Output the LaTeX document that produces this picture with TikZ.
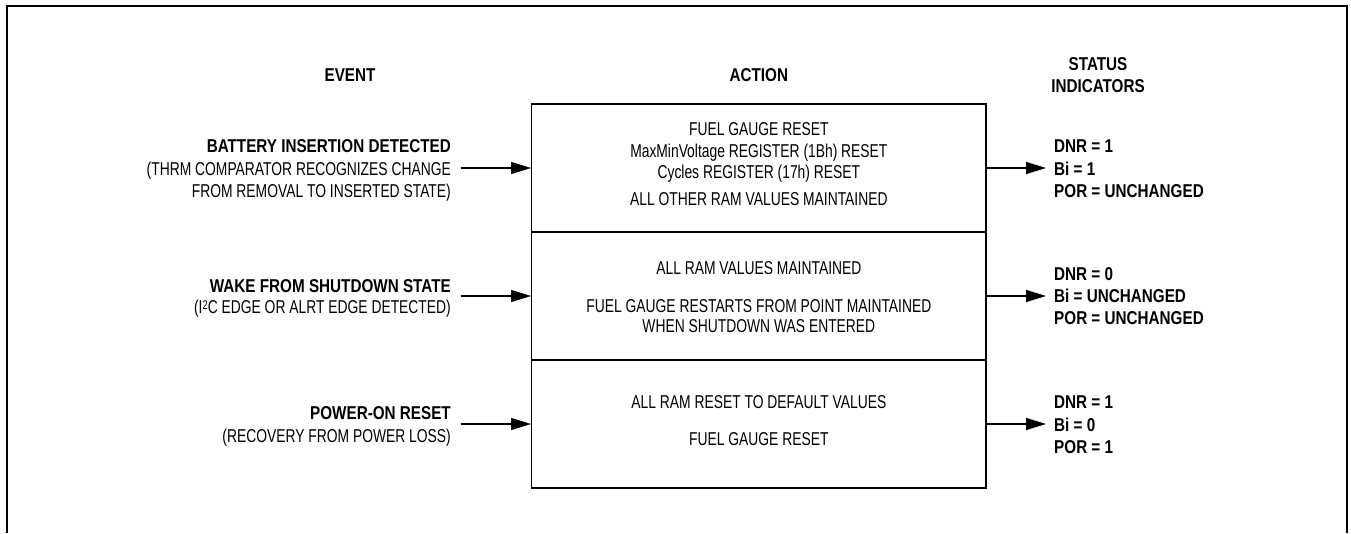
\documentclass[tikz,border=0pt]{standalone}
\usepackage{fontspec}
\newfontfamily\rgfont{Liberation Sans}[FakeStretch=0.745]
\newfontfamily\bdfont{Liberation Sans}[FakeStretch=0.82]
\usetikzlibrary{arrows.meta}
\begin{document}
\begin{tikzpicture}[x=1pt,y=-1pt,
  rg/.style={font=\rgfont\fontsize{18.6}{22}\selectfont, inner sep=0pt},
  bd/.style={font=\bdfont\bfseries\fontsize{18.6}{22}\selectfont, inner sep=0pt},
  rowbox/.style={draw, line width=1.4pt, minimum width=454.3pt, minimum height=128pt, inner sep=0pt},
  arr/.style={line width=1.4pt, -{Triangle[length=20pt,width=12pt]}},
  framestyle/.style={line width=2pt}]
\useasboundingbox (0,0) rectangle (1351,533);
% outer frame (open at bottom)
\draw[framestyle] (7,533) -- (7,6) -- (1347,6) -- (1347,533);

% headers
\node[bd, anchor=base] (hev) at (350,81) {EVENT};
\node[bd, anchor=base] (hac) at (758.85,81) {ACTION};
\node[bd, anchor=base] (hst1) at (1098,70) {STATUS};
\node[bd, anchor=base] (hst2) at (1098,92.5) {INDICATORS};

% action boxes
\node[rowbox] (r1) at (758.85,168) {};
\node[rowbox] (r2) at (758.85,296) {};
\node[rowbox] (r3) at (758.85,424) {};

% action texts
\node[rg, anchor=base] (t11) at (758.85,135.7) {FUEL GAUGE RESET};
\node[rg, anchor=base] (t12) at (758.85,157.3) {MaxMinVoltage REGISTER (1Bh) RESET};
\node[rg, anchor=base] (t13) at (758.85,178.5) {Cycles REGISTER (17h) RESET};
\node[rg, anchor=base] (t14) at (758.85,205) {ALL OTHER RAM VALUES MAINTAINED};

\node[rg, anchor=base] (t21) at (758.85,274.7) {ALL RAM VALUES MAINTAINED};
\node[rg, anchor=base] (t22) at (758.85,312.8) {FUEL GAUGE RESTARTS FROM POINT MAINTAINED};
\node[rg, anchor=base] (t23) at (758.85,332) {WHEN SHUTDOWN WAS ENTERED};

\node[rg, anchor=base] (t31) at (758.85,408.7) {ALL RAM RESET TO DEFAULT VALUES};
\node[rg, anchor=base] (t32) at (758.85,445.7) {FUEL GAUGE RESET};

% event texts
\node[bd, anchor=base east] (e11) at (451,152.7) {BATTERY INSERTION DETECTED};
\node[rg, anchor=base east] (e12) at (451,175.7) {(THRM COMPARATOR RECOGNIZES CHANGE};
\node[rg, anchor=base east] (e13) at (451,197.7) {FROM REMOVAL TO INSERTED STATE)};

\node[bd, anchor=base east] (e21) at (451,292) {WAKE FROM SHUTDOWN STATE};
\node[rg, anchor=base east] (e22) at (451,313.7) {(I\raisebox{4.5pt}{\fontsize{12.5}{12}\selectfont 2}C EDGE OR ALRT EDGE DETECTED)};

\node[bd, anchor=base east] (e31) at (451,419.7) {POWER-ON RESET};
\node[rg, anchor=base east] (e32) at (451,442.7) {(RECOVERY FROM POWER LOSS)};

% status texts
\node[bd, anchor=base west] (s11) at (1054,152.7) {DNR = 1};
\node[bd, anchor=base west] (s12) at (1054,175.7) {Bi = 1};
\node[bd, anchor=base west] (s13) at (1054,197.7) {POR = UNCHANGED};

\node[bd, anchor=base west] (s21) at (1054,280.2) {DNR = 0};
\node[bd, anchor=base west] (s22) at (1054,302.7) {Bi = UNCHANGED};
\node[bd, anchor=base west] (s23) at (1054,324.7) {POR = UNCHANGED};

\node[bd, anchor=base west] (s31) at (1054,408.4) {DNR = 1};
\node[bd, anchor=base west] (s32) at (1054,431.4) {Bi = 0};
\node[bd, anchor=base west] (s33) at (1054,453.4) {POR = 1};

% connectors
\coordinate (a1) at (460.7,168);
\coordinate (a2) at (460.7,296);
\coordinate (a3) at (460.7,424);
\coordinate (b1) at (1046,168);
\coordinate (b2) at (1046,296);
\coordinate (b3) at (1046,424);
\draw[arr] (a1) -- (r1.west);
\draw[arr] (a2) -- (r2.west);
\draw[arr] (a3) -- (r3.west);
\draw[arr] (r1.east) -- (b1);
\draw[arr] (r2.east) -- (b2);
\draw[arr] (r3.east) -- (b3);
\end{tikzpicture}
\end{document}
